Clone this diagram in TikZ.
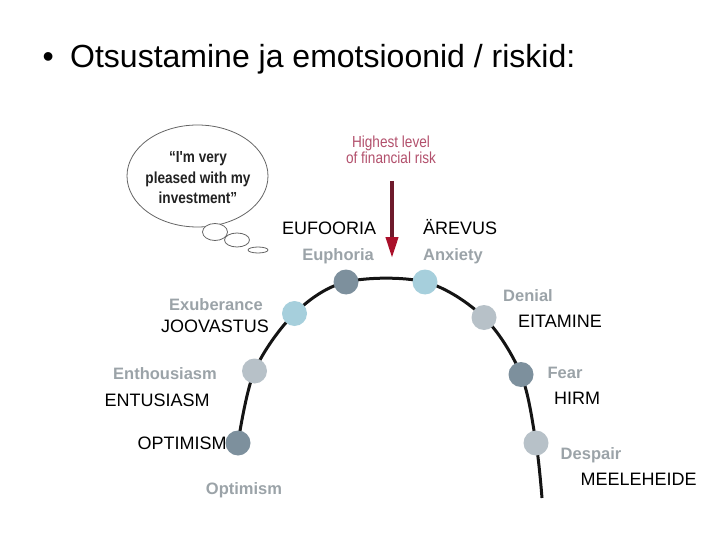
\documentclass[tikz,border=0pt]{standalone}
\usepackage{fontspec}
\setmainfont{Liberation Sans}
\newfontfamily\narrowfont[FakeStretch=0.85]{Liberation Sans}
\usetikzlibrary{shapes.geometric,arrows.meta}
\definecolor{dotdark}{RGB}{125,144,157}
\definecolor{dotgray}{RGB}{183,193,200}
\definecolor{dotblue}{RGB}{166,207,220}
\definecolor{labgray}{RGB}{155,163,168}
\definecolor{riskred}{RGB}{178,80,108}
\definecolor{shaftred}{RGB}{110,26,44}
\definecolor{headred}{RGB}{170,16,42}
\definecolor{bubbleline}{RGB}{100,100,100}
\tikzset{
  dotnode/.style={circle,minimum size=25pt,inner sep=0pt,draw=none},
  estlabel/.style={anchor=base west,inner sep=0pt,font=\fontsize{18}{21}\selectfont,text=black},
  englabel/.style={anchor=base,inner sep=0pt,font=\fontsize{16.5}{19}\selectfont\bfseries,text=labgray},
  bubblepart/.style={ellipse,draw=bubbleline,line width=0.8pt,fill=white,inner sep=0pt},
}
\begin{document}
\begin{tikzpicture}[x=1pt,y=-1pt]
\useasboundingbox (0,0) rectangle (720,540);
% title
\node[anchor=base west,inner sep=0pt,font=\fontsize{32}{36}\selectfont] (bullet) at (42.5,68) {•};
\node[anchor=base west,inner sep=0pt,font=\fontsize{32}{36}\selectfont] (title) at (70,68) {Otsustamine ja emotsioonid / riskid:};
% thought bubble
\node[bubblepart,minimum width=141pt,minimum height=102pt] (bubble) at (197.5,176) {};
\node[bubblepart,minimum width=25pt,minimum height=17pt] (puff1) at (215,232) {};
\node[bubblepart,minimum width=25pt,minimum height=14pt] (puff2) at (237,240) {};
\node[bubblepart,minimum width=20pt,minimum height=6pt] (puff3) at (258,250) {};
\node[align=center,inner sep=0pt,font=\narrowfont\bfseries\fontsize{16}{20.5}\selectfont,text={rgb,255:red,35;green,35;blue,35}] (quote) at (198,178) {“I'm very\\pleased with my\\investment”};
% risk label and arrow
\node[align=center,inner sep=0pt,font=\narrowfont\fontsize{16}{16}\selectfont,text=riskred] (risk) at (391,150) {Highest level\\of financial risk};
\coordinate (riskTop) at (392,181);
\coordinate (riskTip) at (392,258);
\draw[shaftred,line width=4pt,-{Triangle[width=12pt,length=21pt,color=headred]}] (riskTop) -- (riskTip);
% curve points
\coordinate (pOpt) at (238,443);
\coordinate (pEnt) at (254.5,371);
\coordinate (pExu) at (294.5,313.5);
\coordinate (pEup) at (346,282);
\coordinate (pAnx) at (425,282);
\coordinate (pDen) at (484,317.5);
\coordinate (pFea) at (521,374.5);
\coordinate (pDes) at (536,443);
\coordinate (pEnd) at (542,498);
\draw[line width=3pt,black!92] plot[smooth,tension=0.55] coordinates {(pOpt) (pEnt) (pExu) (pEup) (pAnx) (pDen) (pFea) (pDes) (pEnd)};
\node[dotnode,fill=dotdark] (dOpt) at (pOpt) {};
\node[dotnode,fill=dotgray] (dEnt) at (pEnt) {};
\node[dotnode,fill=dotblue] (dExu) at (pExu) {};
\node[dotnode,fill=dotdark] (dEup) at (pEup) {};
\node[dotnode,fill=dotblue] (dAnx) at (pAnx) {};
\node[dotnode,fill=dotgray] (dDen) at (pDen) {};
\node[dotnode,fill=dotdark] (dFea) at (pFea) {};
\node[dotnode,fill=dotgray] (dDes) at (pDes) {};
% English labels
\node[englabel] (lEup) at (338,260) {Euphoria};
\node[englabel] (lAnx) at (453,260.5) {Anxiety};
\node[englabel] (lExu) at (216,310) {Exuberance};
\node[englabel] (lEnt) at (165,379) {Enthousiasm};
\node[englabel] (lDen) at (528,301) {Denial};
\node[englabel] (lFea) at (565,378) {Fear};
\node[englabel] (lDes) at (591,459) {Despair};
\node[englabel] (lOpt) at (244,494) {Optimism};
% Estonian labels
\node[estlabel] (eEup) at (282,234.5) {EUFOORIA};
\node[estlabel] (eAnx) at (423,234.5) {ÄREVUS};
\node[estlabel] (eExu) at (161,332) {JOOVASTUS};
\node[estlabel] (eDen) at (518,327.5) {EITAMINE};
\node[estlabel] (eEnt) at (104.5,406) {ENTUSIASM};
\node[estlabel] (eFea) at (554,404) {HIRM};
\node[estlabel] (eOpt) at (137.5,449) {OPTIMISM};
\node[estlabel] (eDes) at (580.5,485) {MEELEHEIDE};
\end{tikzpicture}
\end{document}
